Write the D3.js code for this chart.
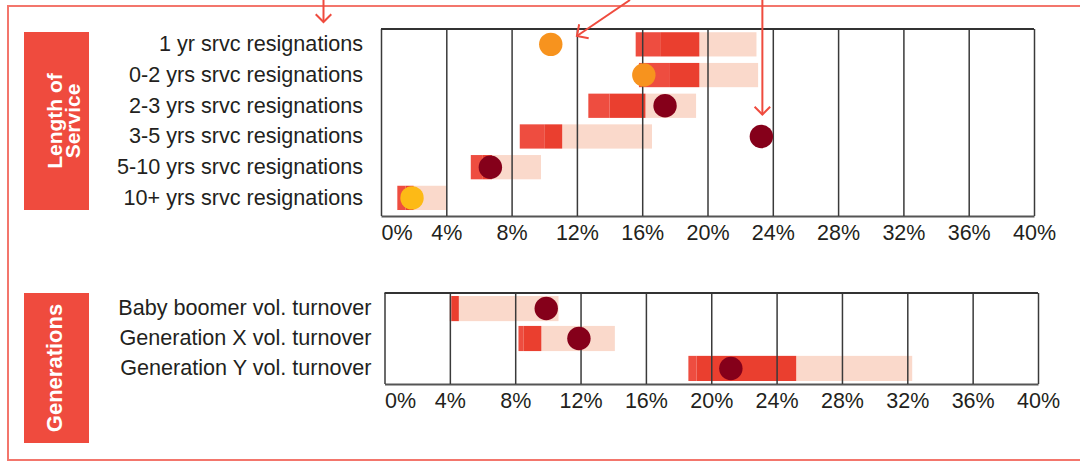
<!DOCTYPE html>
<html>
<head>
<meta charset="utf-8">
<script src="https://cdn.jsdelivr.net/npm/d3@7"></script>
<style>
  html, body { margin: 0; padding: 0; background: #fff; }
  svg { display: block; }
</style>
</head>
<body>
<svg id="chart" width="1080" height="461"></svg>
<script>
// ---- Length of service: resignation rate ranges (%) ----
const tenureLabels = [
  "1 yr srvc resignations",
  "0-2 yrs srvc resignations",
  "2-3 yrs srvc resignations",
  "3-5 yrs srvc resignations",
  "5-10 yrs srvc resignations",
  "10+ yrs srvc resignations"
];
const tenureLow  = [15.6, 15.8, 12.7, 8.5, 5.5, 1.0];
const tenureMid  = [17.1, 17.7, 14.0, 10.0, 6.2, 1.5];
const tenureHigh = [19.5, 19.5, 16.2, 11.1, 6.8, 2.0];
const tenureMax  = [23.0, 23.1, 19.3, 16.6, 9.8, 4.0];
const tenureRate = [10.4, 16.1, 17.4, 23.3, 6.7, 1.9];
const tenureLevel = ["mid", "mid", "high", "high", "high", "low"];

// ---- Generations: voluntary turnover ranges (%) ----
const genLabels = [
  "Baby boomer vol. turnover",
  "Generation X vol. turnover",
  "Generation Y vol. turnover"
];
const genLow  = [4.0, 8.2, 18.6];
const genMid  = [4.1, 8.5, 19.1];
const genHigh = [4.55, 9.6, 25.2];
const genMax  = [10.65, 14.1, 32.3];
const genRate = [9.9, 11.9, 21.2];
const genLevel = ["high", "high", "high"];

// ---- shared axis ----
const pctTicks = [0, 4, 8, 12, 16, 20, 24, 28, 32, 36, 40];
const tenureTitle = ["Length of", "Service"];
const genTitle = ["Generations"];

const FONT = "'Liberation Sans', Arial, Helvetica, sans-serif";
const TEXT = "#231F20";
const RED = "#EF4B3E";
const segColor = { low: "#EE4D40", mid: "#EA3F2F", max: "#FAD9CB" };
const dotColor = d3.scaleOrdinal()
  .domain(["low", "mid", "high"])
  .range(["#FDBA16", "#F7931E", "#85001A"]);

const svg = d3.select("#chart").attr("font-family", FONT);

// outer frame (open on the right)
svg.append("rect")
  .attr("x", 8).attr("y", 6)
  .attr("width", 1100).attr("height", 454)
  .attr("fill", "none")
  .attr("stroke", "#F3766C")
  .attr("stroke-width", 2);

function panel(o) {
  const x = d3.scaleLinear().domain([0, 40]).range([o.x0, o.x1]);
  const y = d3.scaleBand().domain(o.labels).range([o.y0, o.y1])
    .paddingInner(o.pi).paddingOuter(o.po).align(o.align);

  const rows = o.labels.map((label, i) => ({
    label, low: o.low[i], mid: o.mid[i], high: o.high[i],
    max: o.max[i], rate: o.rate[i], level: o.level[i]
  }));

  const g = svg.append("g");

  // range bars: pale tail first, then the two red segments
  const segs = [];
  rows.forEach(r => {
    segs.push({ r, a: r.high, b: r.max, c: segColor.max });
    segs.push({ r, a: r.low, b: r.mid, c: segColor.low });
    segs.push({ r, a: r.mid, b: r.high, c: segColor.mid });
  });
  g.append("g").selectAll("rect").data(segs).join("rect")
    .attr("x", d => x(d.a))
    .attr("width", d => x(d.b) - x(d.a))
    .attr("y", d => y(d.r.label))
    .attr("height", y.bandwidth())
    .attr("fill", d => d.c);

  // vertical grid + percentage axis
  const ax = g.append("g")
    .attr("transform", `translate(0,${o.y1})`)
    .call(d3.axisBottom(x)
      .tickValues(pctTicks)
      .tickFormat(d => d + "%")
      .tickSizeInner(-(o.y1 - o.y0))
      .tickSizeOuter(0)
      .tickPadding(9))
    .attr("font-family", FONT)
    .attr("font-size", 21.5);
  ax.select(".domain").attr("stroke", "#555").attr("stroke-width", 2);
  ax.selectAll(".tick line").attr("stroke", "#3a3a3a").attr("stroke-width", 1.5);
  ax.selectAll(".tick text").attr("fill", TEXT);
  ax.selectAll(".tick text").filter(d => d === 0).attr("text-anchor", "start");

  // top edge of the plot frame
  g.append("line")
    .attr("x1", x(0)).attr("x2", x(40))
    .attr("y1", o.y0).attr("y2", o.y0)
    .attr("stroke", "#333").attr("stroke-width", 2);

  // observed rate markers
  g.append("g").selectAll("circle").data(rows).join("circle")
    .attr("cx", d => x(d.rate))
    .attr("cy", d => y(d.label) + y.bandwidth() / 2)
    .attr("r", 11.7)
    .attr("fill", d => dotColor(d.level));

  // row labels
  const la = g.append("g")
    .attr("transform", `translate(${o.x0},0)`)
    .call(d3.axisLeft(y).tickSize(0).tickPadding(o.labelPad))
    .attr("font-family", FONT)
    .attr("font-size", 21.6);
  la.select(".domain").remove();
  la.selectAll(".tick text").attr("fill", TEXT);

  // group title box
  g.append("rect")
    .attr("x", 24).attr("y", o.boxTop)
    .attr("width", 65).attr("height", o.boxBottom - o.boxTop)
    .attr("fill", RED);
  const cx = 56.5, cy = (o.boxTop + o.boxBottom) / 2;
  const t = g.append("text")
    .attr("transform", `translate(${cx},${cy}) rotate(-90)`)
    .attr("text-anchor", "middle")
    .attr("fill", "#fff")
    .attr("font-weight", "bold")
    .attr("font-size", o.titleSize);
  o.title.forEach((line, i) => {
    t.append("tspan").attr("x", 0).attr("y", o.titleBase[i]).text(line);
  });

  return { x, y };
}

const tenurePanel = panel({
  labels: tenureLabels, low: tenureLow, mid: tenureMid, high: tenureHigh,
  max: tenureMax, rate: tenureRate, level: tenureLevel,
  x0: 381, x1: 1034, y0: 29, y1: 216,
  pi: 0.21, po: 0.15, align: 0.35, labelPad: 18,
  boxTop: 32, boxBottom: 210, title: tenureTitle, titleSize: 21, titleBase: [5, 23.5]
});

panel({
  labels: genLabels, low: genLow, mid: genMid, high: genHigh,
  max: genMax, rate: genRate, level: genLevel,
  x0: 384.5, x1: 1038, y0: 293, y1: 384,
  pi: 0.16, po: 0.1, align: 0.5, labelPad: 13,
  boxTop: 293, boxBottom: 443, title: genTitle, titleSize: 22, titleBase: [5.5]
});

// ---- callout arrows ----
const arrows = svg.append("g")
  .attr("fill", "none")
  .attr("stroke", RED)
  .attr("stroke-width", 2)
  .attr("stroke-linejoin", "miter");

function arrow(x1, y1, x2, y2, head) {
  const a = Math.atan2(y2 - y1, x2 - x1);
  const spread = Math.PI / 4;
  const p1 = [x2 - head * Math.cos(a - spread), y2 - head * Math.sin(a - spread)];
  const p2 = [x2 - head * Math.cos(a + spread), y2 - head * Math.sin(a + spread)];
  arrows.append("line").attr("x1", x1).attr("y1", y1).attr("x2", x2).attr("y2", y2);
  arrows.append("path").attr("d", `M${p1}L${x2},${y2}L${p2}`);
}

// to the row labels
arrow(323.5, 0, 323.5, 22, 11);
// to the 12% gridline near the first row
arrow(630, 0, tenurePanel.x(12), 36, 12);
// straight down onto the 3-5 yrs marker
const mx = tenurePanel.x(tenureRate[3]);
const my = tenurePanel.y(tenureLabels[3]) + tenurePanel.y.bandwidth() / 2;
arrow(mx + 1, 0, mx + 1, my - 22, 11);
</script>
</body>
</html>
